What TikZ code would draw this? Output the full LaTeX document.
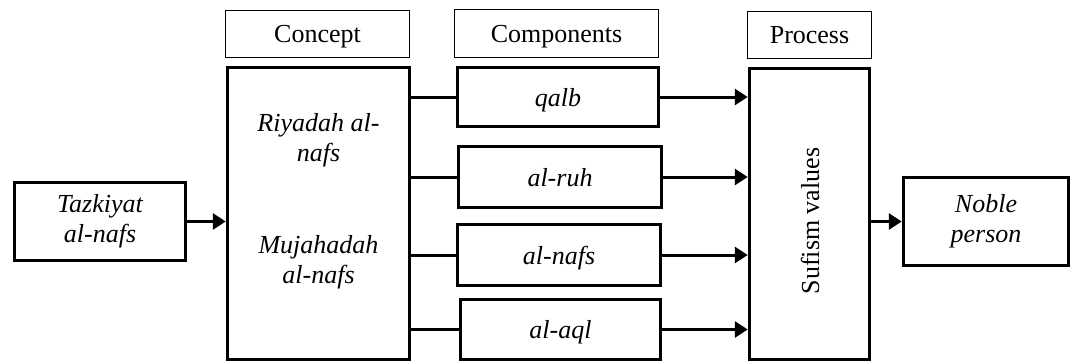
\documentclass[tikz,border=0pt]{standalone}
\usepackage{fontspec}
\setmainfont{Liberation Serif}
\usetikzlibrary{arrows.meta}
\begin{document}
\begin{tikzpicture}[x=1pt,y=-1pt,
  every node/.style={font=\fontsize{26}{30}\selectfont},
  thickbox/.style={draw,line width=3.5pt,inner sep=0pt,align=center},
  onebox/.style={thickbox,text depth=0pt},
  headbox/.style={draw,line width=1.2pt,inner sep=0pt,text depth=0pt},
  txt/.style={inner sep=0pt,align=center},
  link/.style={line width=3pt},
  arr/.style={line width=3pt,-{Triangle[length=13pt,width=16pt]}}]
\useasboundingbox (0,0) rectangle (1070,362);
% header labels
\node[headbox,minimum width=184pt,minimum height=47pt] (hc) at (317.5,34) {Concept};
\node[headbox,minimum width=204pt,minimum height=48pt] (hm) at (556.5,33.5) {Components};
\node[headbox,minimum width=124pt,minimum height=47pt] (hp) at (809.5,35) {Process};
% boxes
\node[thickbox,minimum width=171pt,minimum height=78pt] (t) at (100,221.5) {\itshape Tazkiyat\\\itshape al-nafs};
\node[thickbox,minimum width=182pt,minimum height=292pt] (c) at (318.5,213.5) {};
\node[txt] (c1) at (318.5,140) {\itshape Riyadah al-\\\itshape nafs};
\node[txt] (c2) at (318.5,262) {\itshape Mujahadah\\\itshape al-nafs};
\node[onebox,minimum width=201pt,minimum height=59pt] (q) at (558,97) {\itshape qalb};
\node[onebox,minimum width=203pt,minimum height=61pt] (r) at (560,177) {\itshape al-ruh};
\node[onebox,minimum width=203pt,minimum height=61pt] (n) at (559,255) {\itshape al-nafs};
\node[onebox,minimum width=200pt,minimum height=60pt] (a) at (560.5,329.5) {\itshape al-aql};
\node[thickbox,minimum width=120pt,minimum height=291pt] (s) at (809.5,214) {};
\node[txt,rotate=90] (st) at (810,221) {Sufism values};
\node[thickbox,minimum width=165pt,minimum height=88pt] (p) at (986,221.5) {\itshape Noble\\\itshape person};
% connectors
\draw[arr] (t.east) -- (t.east -| c.west);
\foreach \b in {q,r,n,a}{
  \draw[link] (c.east |- \b.west) -- (\b.west);
  \draw[arr] (\b.east) -- (\b.east -| s.west);
}
\draw[arr] (s.east |- p.west) -- (p.west);
\end{tikzpicture}
\end{document}
